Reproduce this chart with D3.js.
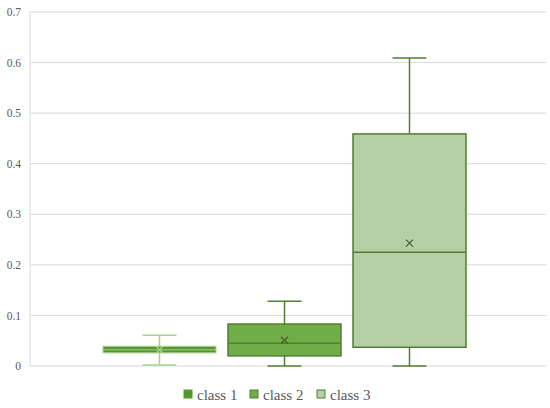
<!DOCTYPE html>
<html><head><meta charset="utf-8">
<script src="https://cdn.jsdelivr.net/npm/d3@7"></script>
<style>body{margin:0;background:#fff}svg{display:block}</style>
</head><body>
<script>
const series = ["class 1", "class 2", "class 3"];
const whiskerLow = [0.002, 0.0, 0.0];
const q1 = [0.026, 0.020, 0.037];
const median = [0.032, 0.045, 0.225];
const q3 = [0.039, 0.083, 0.459];
const whiskerHigh = [0.061, 0.128, 0.609];
const means = [0.032, 0.051, 0.243];
const yTicks = [0, 0.1, 0.2, 0.3, 0.4, 0.5, 0.6, 0.7];
const fills = ["#55972f", "#70ad47", "#b4cfa4"];
const strokes = ["#a9d18e", "#507e32", "#507e32"];

const W = 550, H = 408;
const svg = d3.select("body").append("svg").attr("width", W).attr("height", H);
const y = d3.scaleLinear().domain([0, 0.7]).range([366, 12]);
const x = d3.scaleBand().domain(series).range([97, 472]).paddingInner(0.096).paddingOuter(0.048);
const plotL = 30, plotR = 546;

// gridlines
svg.append("g").selectAll("line").data(yTicks).join("line")
  .attr("x1", plotL).attr("x2", plotR)
  .attr("y1", d => y(d)).attr("y2", d => y(d))
  .attr("stroke", "#d9d9d9").attr("stroke-width", 1);
svg.append("line").attr("x1", plotL).attr("x2", plotL).attr("y1", y(0.7)).attr("y2", y(0))
  .attr("stroke", "#d9d9d9").attr("stroke-width", 1);

// y axis labels
const yAxis = d3.axisLeft(y).tickValues(yTicks).tickFormat(d => d === 0 ? "0" : d3.format(".1f")(d)).tickSize(0).tickPadding(0);
const ga = svg.append("g").attr("transform", "translate(21,0)").call(yAxis);
ga.select(".domain").remove();
ga.selectAll("text").attr("font-family", "'Liberation Serif', 'Times New Roman', serif")
  .attr("font-size", "11.5px").attr("fill", "#595959");

const data = series.map((s, i) => ({s, i, lo: whiskerLow[i], q1: q1[i], md: median[i], q3: q3[i], hi: whiskerHigh[i], mean: means[i]}));

const g = svg.append("g");
data.forEach(d => {
  const x0 = x(d.s), bw = x.bandwidth(), cx = x0 + bw / 2;
  const capW = bw * 0.3;
  const st = strokes[d.i];
  const sw = d.i === 0 ? 1 : 1.5;
  const gg = g.append("g");
  // whiskers
  gg.append("line").attr("x1", cx).attr("x2", cx).attr("y1", y(d.hi)).attr("y2", y(d.q3)).attr("stroke", st).attr("stroke-width", 1.5);
  gg.append("line").attr("x1", cx).attr("x2", cx).attr("y1", y(d.q1)).attr("y2", y(d.lo)).attr("stroke", st).attr("stroke-width", 1.5);
  gg.append("line").attr("x1", cx - capW / 2).attr("x2", cx + capW / 2).attr("y1", y(d.hi)).attr("y2", y(d.hi)).attr("stroke", st).attr("stroke-width", 1.5);
  gg.append("line").attr("x1", cx - capW / 2).attr("x2", cx + capW / 2).attr("y1", y(d.lo)).attr("y2", y(d.lo)).attr("stroke", st).attr("stroke-width", 1.5);
  // box
  gg.append("rect").attr("x", x0).attr("y", y(d.q3)).attr("width", bw).attr("height", y(d.q1) - y(d.q3))
    .attr("fill", fills[d.i]).attr("stroke", st).attr("stroke-width", sw);
  // median
  gg.append("line").attr("x1", x0).attr("x2", x0 + bw).attr("y1", y(d.md)).attr("y2", y(d.md)).attr("stroke", st).attr("stroke-width", sw);
  // mean marker
  const my = y(d.mean), r = 3.5;
  gg.append("path").attr("d", `M${cx - r},${my - r}L${cx + r},${my + r}M${cx - r},${my + r}L${cx + r},${my - r}`)
    .attr("stroke", d.i === 0 ? "#a9d18e" : "#3f6428").attr("stroke-width", 1.3).attr("fill", "none");
});

// legend
const legX = [184, 250, 317];
const lg = svg.append("g");
series.forEach((s, i) => {
  lg.append("rect").attr("x", legX[i]).attr("y", 390).attr("width", 8).attr("height", 8)
    .attr("fill", fills[i]).attr("stroke", i === 0 ? fills[0] : strokes[i]).attr("stroke-width", 1);
  lg.append("text").attr("x", legX[i] + 13).attr("y", 399.5).text(s)
    .attr("font-family", "'Liberation Serif', 'Times New Roman', serif").attr("font-size", "15px").attr("fill", "#595959");
});
</script>
</body></html>
